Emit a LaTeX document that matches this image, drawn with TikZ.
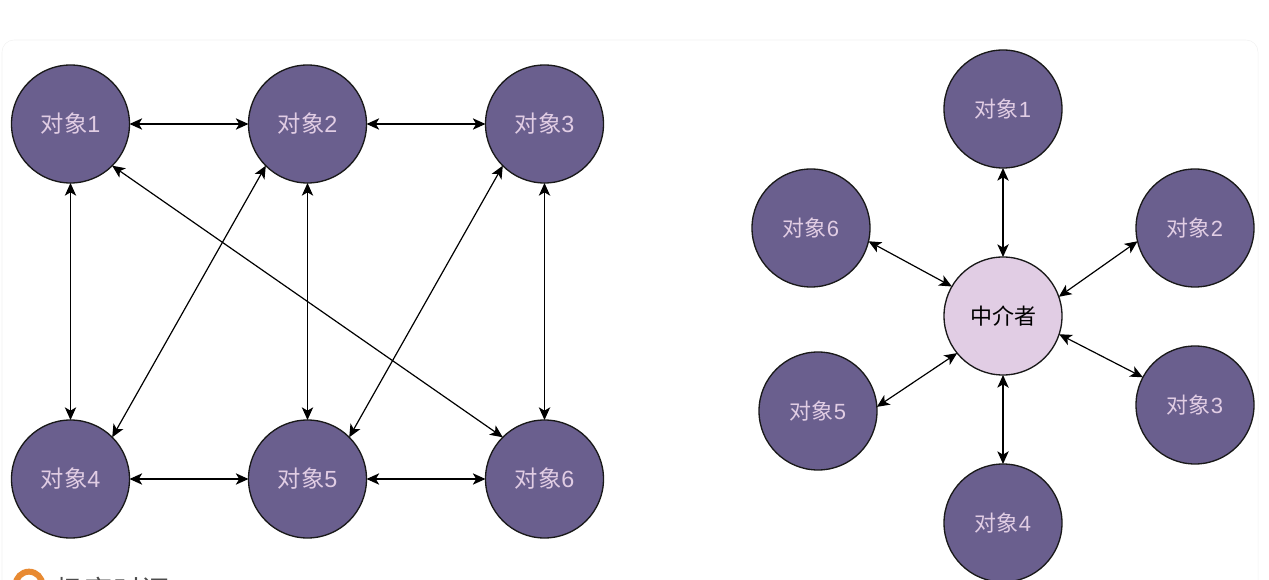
\documentclass[tikz,border=0pt]{standalone}
\usepackage{fontspec}
\usetikzlibrary{arrows.meta,positioning}
\setmainfont{Liberation Sans}
\newfontfamily\cjk{Noto Sans CJK SC}
\definecolor{objfill}{RGB}{106,95,142}
\definecolor{objtext}{RGB}{225,205,228}
\definecolor{medfill}{RGB}{225,205,228}
\definecolor{logoorange}{RGB}{232,138,50}
\definecolor{cardline}{RGB}{241,241,241}
\newcommand{\objname}[1]{{\cjk 对象}#1}
\tikzset{
  obj/.style={circle,draw=black!90,line width=1pt,fill=objfill,text=objtext,minimum size=88.5pt,inner sep=0pt,outer sep=0pt,font=\fontsize{17.5}{18}\selectfont},
  objr/.style={obj,font=\fontsize{16.5}{18}\selectfont},
  med/.style={obj,fill=medfill,text=black,font=\fontsize{16.5}{18}\selectfont},
  link/.style={<->,line width=.9pt}
}
\begin{document}
\begin{tikzpicture}[>={Stealth[length=9.5pt,width=8.5pt,inset=2.5pt]},x=.75pt,y=-.75pt,node distance=177.75pt and 89.25pt]
\clip (0,0) rectangle (1269,580);
\draw[cardline,rounded corners=9pt] (2,40) rectangle (1258,640);
% left: every object talks to others
\node[obj] (a1) at (70.5,124) {\objname{1}};
\node[obj,right=of a1] (a2) {\objname{2}};
\node[obj,right=of a2] (a3) {\objname{3}};
\node[obj,below=of a1] (a4) {\objname{4}};
\node[obj,right=of a4] (a5) {\objname{5}};
\node[obj,right=of a5] (a6) {\objname{6}};
\draw[link] (a1)--(a2);
\draw[link] (a2)--(a3);
\draw[link] (a4)--(a5);
\draw[link] (a5)--(a6);
\draw[link] (a1)--(a4);
\draw[link] (a2)--(a5);
\draw[link] (a3)--(a6);
\draw[link] (a1.south east)--(a6.north west);
\draw[link] (a2.south west)--(a4.north east);
\draw[link] (a3.south west)--(a5.north east);
% right: all through the centre
\node[med] (m) at (1003,316) {{\cjk 中介者}};
\node[objr] (b1) at (1003,109) {\objname{1}};
\node[objr] (b2) at (1195,228) {\objname{2}};
\node[objr] (b3) at (1195,405) {\objname{3}};
\node[objr] (b4) at (1003,523) {\objname{4}};
\node[objr] (b5) at (818,411) {\objname{5}};
\node[objr] (b6) at (811,228) {\objname{6}};
\draw[link] (b1)--(m);
\draw[link] (b4)--(m);
\draw[link] (b2.193)--(m.19);
\draw[link] (b3.152)--(m.-18);
\draw[link] (b5.4)--(m.219);
\draw[link] (b6.-13)--(m.150);
% cut-off mark at the bottom
\node[circle,draw=logoorange,line width=4.5pt,minimum size=20pt,inner sep=0pt] (logo) at (29,585) {};
\node[anchor=west,text=black!70,font=\cjk\fontsize{21.5}{24}\selectfont] (brand) at (51,590) {极客时间};
\end{tikzpicture}
\end{document}
